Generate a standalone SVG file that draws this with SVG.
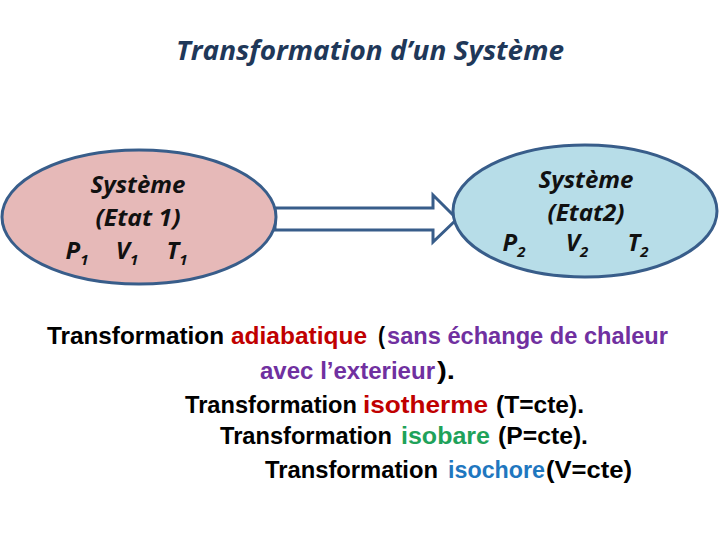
<svg xmlns="http://www.w3.org/2000/svg" width="720" height="540" viewBox="0 0 720 540">
<style>
.t{font-family:"Liberation Sans","Open Sans",sans-serif;font-weight:bold;font-size:24px;fill:#000;}
.h{font-family:"Open Sans","Liberation Sans",sans-serif;font-weight:bold;font-style:italic;font-size:26px;fill:#1F3859;}
.node{stroke:#385D8A;stroke-width:3;}
.lbl{font-family:"Open Sans","Liberation Sans",sans-serif;font-weight:bold;font-style:italic;font-size:24px;fill:#111;text-anchor:middle;}
.sub{font-size:15px;}
.red{fill:#C00000;}.pur{fill:#7030A0;}.grn{fill:#1FA25A;}.blu{fill:#1F77BF;}
</style>
<rect width="720" height="540" fill="#fff"/>
<text class="h" x="370" y="60" text-anchor="middle" textLength="388" lengthAdjust="spacingAndGlyphs">Transformation d’un Système</text>
<g id="connectors">
<path d="M275,208 H433 V195 L457,219 L433,242 V230 H275 Z" fill="#fff" stroke="#385D8A" stroke-width="3" stroke-linejoin="miter"/>
</g>
<g id="etat1">
<ellipse class="node" cx="139" cy="217" rx="137" ry="67" fill="#E6B9B8"/>
<text class="lbl" x="138" y="193" textLength="95" lengthAdjust="spacingAndGlyphs">Système</text>
<text class="lbl" x="138" y="226" textLength="85" lengthAdjust="spacingAndGlyphs">(Etat 1)</text>
<text class="lbl" x="77" y="259" text-anchor="start">P<tspan class="sub" dy="6">1</tspan></text>
<text class="lbl" x="127" y="259" text-anchor="start">V<tspan class="sub" dy="6">1</tspan></text>
<text class="lbl" x="177" y="259" text-anchor="start">T<tspan class="sub" dy="6">1</tspan></text>
</g>
<g id="etat2">
<ellipse class="node" cx="585" cy="211" rx="132" ry="66" fill="#B7DDE8"/>
<text class="lbl" x="586" y="188" textLength="95" lengthAdjust="spacingAndGlyphs">Système</text>
<text class="lbl" x="586" y="221" textLength="77" lengthAdjust="spacingAndGlyphs">(Etat2)</text>
<text class="lbl" x="514" y="251" text-anchor="start">P<tspan class="sub" dy="6">2</tspan></text>
<text class="lbl" x="577" y="251" text-anchor="start">V<tspan class="sub" dy="6">2</tspan></text>
<text class="lbl" x="638" y="251" text-anchor="start">T<tspan class="sub" dy="6">2</tspan></text>
</g>
<g id="texte">
<text class="t" x="47" y="344" textLength="177" lengthAdjust="spacingAndGlyphs">Transformation</text>
<text class="t red" x="231" y="344" textLength="136" lengthAdjust="spacingAndGlyphs">adiabatique</text>
<text class="t" x="378" y="344" textLength="7" lengthAdjust="spacingAndGlyphs">(</text>
<text class="t pur" x="387" y="344" textLength="281" lengthAdjust="spacingAndGlyphs">sans échange de chaleur</text>
<text class="t pur" x="260" y="379" textLength="175" lengthAdjust="spacingAndGlyphs">avec l’exterieur</text>
<text class="t" x="437" y="379" textLength="18" lengthAdjust="spacingAndGlyphs">).</text>
<text class="t" x="185" y="413" textLength="172" lengthAdjust="spacingAndGlyphs">Transformation</text>
<text class="t red" x="363" y="413" textLength="125" lengthAdjust="spacingAndGlyphs">isotherme</text>
<text class="t" x="496" y="413" textLength="88" lengthAdjust="spacingAndGlyphs">(T=cte).</text>
<text class="t" x="220" y="444" textLength="172" lengthAdjust="spacingAndGlyphs">Transformation</text>
<text class="t grn" x="401" y="444" textLength="89" lengthAdjust="spacingAndGlyphs">isobare</text>
<text class="t" x="498" y="444" textLength="90" lengthAdjust="spacingAndGlyphs">(P=cte).</text>
<text class="t" x="265" y="478" textLength="173" lengthAdjust="spacingAndGlyphs">Transformation</text>
<text class="t blu" x="448" y="478" textLength="97" lengthAdjust="spacingAndGlyphs">isochore</text>
<text class="t" x="546" y="478" textLength="86" lengthAdjust="spacingAndGlyphs">(V=cte)</text>
</g>
</svg>
